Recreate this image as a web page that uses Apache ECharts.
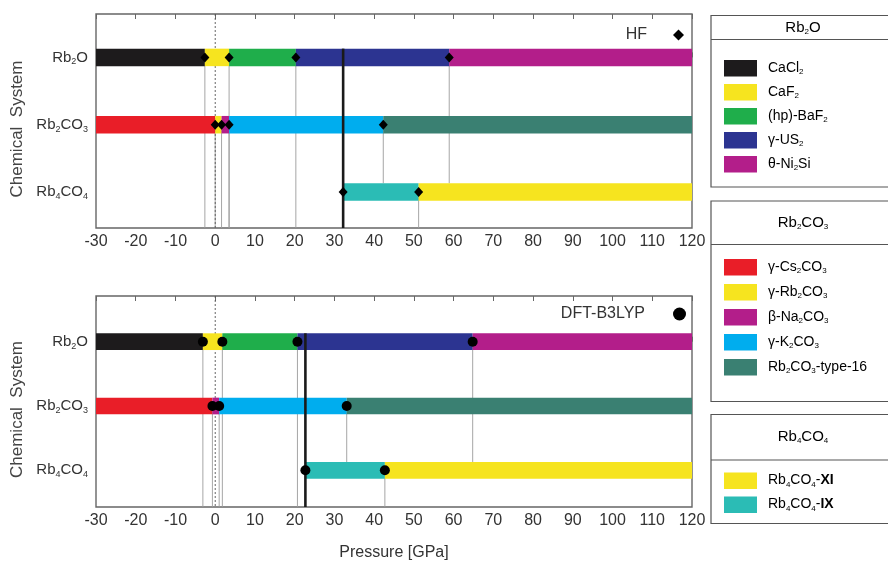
<!DOCTYPE html>
<html>
<head>
<meta charset="utf-8">
<script src="https://cdn.jsdelivr.net/npm/echarts@6/dist/echarts.min.js"></script>
<style>
  html, body { margin: 0; padding: 0; background: #fff; }
  #chart { width: 888px; height: 562px; }
</style>
</head>
<body>
<div id="chart"></div>
<script>
// ---- data -------------------------------------------------------------
const systemNames = ['Rb2O', 'Rb2CO3', 'Rb4CO4'];
const pressureMin = -30;
const pressureMax = 120;
const pressureStep = 10;

// phases per chemical system, in legend order, with their colours
const rb2oPhases = ['CaCl2', 'CaF2', '(hp)-BaF2', 'γ-US2', 'θ-Ni2Si'];
const rb2oColors = ['#1d1b1c', '#f6e41f', '#1fae4b', '#2c3491', '#b31e8a'];
const rb2co3Phases = ['γ-Cs2CO3', 'γ-Rb2CO3', 'β-Na2CO3', 'γ-K2CO3', 'Rb2CO3-type-16'];
const rb2co3Colors = ['#e91e28', '#f6e41f', '#b31e8a', '#00adee', '#3a8072'];
const rb4co4Phases = ['Rb4CO4-XI', 'Rb4CO4-IX'];
const rb4co4Colors = ['#f6e41f', '#2bbcb5'];

// HF: phase sequence with increasing pressure and transition pressures (GPa)
const hfRb2oSeq = ['CaCl2', 'CaF2', '(hp)-BaF2', 'γ-US2', 'θ-Ni2Si'];
const hfRb2oP = [-2.6, 3.5, 20.3, 58.9];
const hfRb2co3Seq = ['γ-Cs2CO3', 'γ-Rb2CO3', 'β-Na2CO3', 'γ-K2CO3', 'Rb2CO3-type-16'];
const hfRb2co3P = [0.0, 1.6, 3.5, 42.3];
const hfRb4co4Seq = ['Rb4CO4-IX', 'Rb4CO4-XI'];
const hfRb4co4P = [32.2, 51.2];   // first value: onset of Rb4CO4 stability

// DFT-B3LYP
const dftRb2oSeq = ['CaCl2', 'CaF2', '(hp)-BaF2', 'γ-US2', 'θ-Ni2Si'];
const dftRb2oP = [-3.1, 1.8, 20.7, 64.8];
const dftRb2co3Seq = ['γ-Cs2CO3', 'β-Na2CO3', 'γ-K2CO3', 'Rb2CO3-type-16'];
const dftRb2co3P = [-0.7, 1.0, 33.1];
const dftRb4co4Seq = ['Rb4CO4-IX', 'Rb4CO4-XI'];
const dftRb4co4P = [22.7, 42.7];  // first value: onset of Rb4CO4 stability

const methodNames = ['HF', 'DFT-B3LYP'];

// ---- helpers ----------------------------------------------------------
const FONT = '"Liberation Sans", Arial, Helvetica, sans-serif';
const TEXT = '#333';
const BAR = 0.26;   // bar thickness as a fraction of the row spacing

const colorOf = {};
[[rb2oPhases, rb2oColors], [rb2co3Phases, rb2co3Colors], [rb4co4Phases, rb4co4Colors]]
  .forEach(([names, cols]) => names.forEach((n, i) => { colorOf[n] = cols[i]; }));

// chemical formula -> rich text: digits after a letter become subscripts,
// a trailing Roman-numeral tag is set in bold
function richName(s, base) {
  let tag = '';
  const m = s.match(/^(.*-)(XI|IX)$/);
  if (m) { s = m[1]; tag = m[2]; }
  const parts = s.split(/(?<=[A-Za-z])(\d+)/);
  let out = '';
  parts.forEach((p, i) => {
    if (!p) return;
    out += '{' + (i % 2 ? base + 's' : base) + '|' + p + '}';
  });
  if (tag) out += '{' + base + 'b|' + tag + '}';
  return out;
}
function richStyles(base, size, subSize, lh) {
  const r = {};
  r[base] = { fontSize: size, color: TEXT, fontFamily: FONT, lineHeight: lh };
  r[base + 's'] = { fontSize: subSize, color: TEXT, fontFamily: FONT, verticalAlign: 'bottom', lineHeight: subSize - 2 };
  r[base + 'b'] = { fontSize: size, color: TEXT, fontFamily: FONT, fontWeight: 'bold', lineHeight: lh };
  return r;
}

function buildPanel(rows) {
  const segs = [], marks = [], guides = [];
  const onset = rows[2].p[0];
  rows.forEach((r, row) => {
    const edges = r.onset ? r.p.concat([pressureMax]) : [pressureMin].concat(r.p, [pressureMax]);
    r.seq.forEach((name, k) => {
      segs.push({ value: [edges[k], edges[k + 1], row], itemStyle: { color: colorOf[name] } });
    });
    r.p.forEach((x, k) => {
      marks.push([x, row]);
      if (r.onset && k === 0) return;
      // guides run down to the axis unless they meet the Rb4CO4 bar
      guides.push([x, row, (row < 2 && x > onset) ? 2 : -1]);
    });
  });
  return { segs, marks, guides, onset };
}

const panels = [
  buildPanel([
    { seq: hfRb2oSeq, p: hfRb2oP },
    { seq: hfRb2co3Seq, p: hfRb2co3P },
    { seq: hfRb4co4Seq, p: hfRb4co4P, onset: true }
  ]),
  buildPanel([
    { seq: dftRb2oSeq, p: dftRb2oP },
    { seq: dftRb2co3Seq, p: dftRb2co3P },
    { seq: dftRb4co4Seq, p: dftRb4co4P, onset: true }
  ])
];

// ---- layout -----------------------------------------------------------
const grids = [
  { left: 96, top: 14, width: 596, height: 214 },
  { left: 96, top: 296, width: 596, height: 213 }
];
const yRange = [[-0.645, 2.535], [-0.71, 2.57]];

const xAxes = [], yAxes = [], series = [];
grids.forEach((g, i) => {
  xAxes.push({
    type: 'value', gridIndex: i, min: pressureMin, max: pressureMax, interval: pressureStep,
    position: 'bottom',
    axisLine: { show: false },
    axisTick: { inside: true, length: 5, lineStyle: { color: '#666', width: 1 } },
    splitLine: { show: false },
    axisLabel: { fontSize: 16, color: TEXT, fontFamily: FONT, margin: 6 },
    name: i === 1 ? 'Pressure [GPa]' : '',
    nameLocation: 'middle', nameGap: 38,
    nameTextStyle: { fontSize: 16, color: TEXT, fontFamily: FONT }
  });
  xAxes.push({
    type: 'value', gridIndex: i, min: pressureMin, max: pressureMax, interval: pressureStep,
    position: 'top',
    axisLine: { show: false },
    axisTick: { inside: true, length: 5, lineStyle: { color: '#666', width: 1 } },
    splitLine: { show: false },
    axisLabel: { show: false }
  });
  yAxes.push({
    type: 'value', gridIndex: i, min: yRange[i][0], max: yRange[i][1], inverse: true,
    axisLine: { show: false }, axisTick: { show: false }, splitLine: { show: false },
    axisLabel: {
      customValues: [0, 1, 2], margin: 8,
      formatter: v => richName(systemNames[Math.round(v)], 'y'),
      rich: richStyles('y', 15, 9, 18)
    },
    name: 'Chemical  System', nameLocation: 'middle', nameGap: 66,
    nameTextStyle: { fontSize: 17, color: '#444', fontFamily: FONT, padding: [0, 16, 0, 0] }
  });

  const P = panels[i];
  const xi = i * 2;
  // thin guide lines from each transition
  series.push({
    type: 'custom', xAxisIndex: xi, yAxisIndex: i, z: 1, silent: true,
    data: P.guides,
    renderItem: (params, api) => {
      const x = api.value(0), row = api.value(1), end = api.value(2);
      const a = api.coord([x, row]);
      const cs = params.coordSys;
      const h = api.size([0, 1])[1] * BAR;
      const y2 = end < 0 ? cs.y + cs.height : api.coord([x, end])[1] - h / 2;
      return { type: 'line', shape: { x1: a[0], y1: a[1], x2: a[0], y2: y2 },
        style: { stroke: '#9c9c9c', lineWidth: 0.9 } };
    }
  });
  // zero-pressure reference
  series.push({
    type: 'custom', xAxisIndex: xi, yAxisIndex: i, z: 1, silent: true,
    data: [[0]],
    renderItem: (params, api) => {
      const cs = params.coordSys;
      const x = api.coord([api.value(0), 0])[0];
      return { type: 'line', shape: { x1: x, y1: cs.y, x2: x, y2: cs.y + cs.height },
        style: { stroke: '#555', lineWidth: 0.9, lineDash: [2, 2] } };
    }
  });
  // phase bars
  series.push({
    type: 'custom', xAxisIndex: xi, yAxisIndex: i, z: 2, silent: true,
    data: P.segs,
    renderItem: (params, api) => {
      const s = api.coord([api.value(0), api.value(2)]);
      const e = api.coord([api.value(1), api.value(2)]);
      const h = api.size([0, 1])[1] * BAR;
      return { type: 'rect', shape: { x: s[0], y: s[1] - h / 2, width: e[0] - s[0], height: h },
        style: { fill: api.visual('color') } };
    }
  });
  // onset of Rb4CO4 stability
  series.push({
    type: 'custom', xAxisIndex: xi, yAxisIndex: i, z: 3, silent: true,
    data: [[P.onset]],
    renderItem: (params, api) => {
      const cs = params.coordSys;
      const a = api.coord([api.value(0), 0]);
      const h = api.size([0, 1])[1] * BAR;
      return { type: 'line', shape: { x1: a[0], y1: a[1] - h / 2, x2: a[0], y2: cs.y + cs.height },
        style: { stroke: '#1a1a1a', lineWidth: 2.6 } };
    }
  });
  // transition markers
  series.push({
    type: 'scatter', name: methodNames[i], xAxisIndex: xi, yAxisIndex: i, z: 4,
    symbol: i === 0 ? 'diamond' : 'circle',
    symbolSize: i === 0 ? [9, 10] : 10,
    itemStyle: { color: '#000', opacity: 1 },
    data: P.marks
  });
});

// ---- legend boxes for the phases --------------------------------------
const legendGroups = [
  { title: 'Rb2O', items: rb2oPhases, top: 15.5, head: 24, bottom: 187, first: 60, step: 24 },
  { title: 'Rb2CO3', items: rb2co3Phases, top: 201, head: 43.5, bottom: 401.5, first: 259, step: 25 },
  { title: 'Rb4CO4', items: rb4co4Phases, top: 414.5, head: 45.5, bottom: 523.5, first: 472.5, step: 24 }
];
const boxLeft = 711, boxRight = 905;
const graphic = [];
legendGroups.forEach(g => {
  graphic.push({ type: 'rect', shape: { x: boxLeft, y: g.top, width: boxRight - boxLeft, height: g.bottom - g.top },
    style: { fill: 'none', stroke: '#555', lineWidth: 1.2 } });
  graphic.push({ type: 'line', shape: { x1: boxLeft, y1: g.top + g.head, x2: boxRight, y2: g.top + g.head },
    style: { stroke: '#555', lineWidth: 1.2 } });
  graphic.push({ type: 'text', x: 803, y: g.top + g.head / 2,
    style: { text: richName(g.title, 'h'), rich: richStyles('h', 15, 8, 16), align: 'center', verticalAlign: 'middle' } });
  g.items.forEach((name, k) => {
    const y = g.first + g.step * k;
    graphic.push({ type: 'rect', shape: { x: 724, y: y, width: 33, height: 16.5 },
      style: { fill: colorOf[name] } });
    graphic.push({ type: 'text', x: 768, y: y + 8,
      style: { text: richName(name, 'l'), rich: richStyles('l', 14, 8, 16), align: 'left', verticalAlign: 'middle' } });
  });
});

// ---- chart ------------------------------------------------------------
const chart = echarts.init(document.getElementById('chart'), null, { renderer: 'canvas' });
chart.setOption({
  backgroundColor: '#fff',
  animation: false,
  textStyle: { fontFamily: FONT },
  grid: grids.map(g => Object.assign({ show: true, borderColor: '#666', borderWidth: 1.4, backgroundColor: 'transparent' }, g)),
  xAxis: xAxes,
  yAxis: yAxes,
  series: series,
  legend: [
    { data: ['HF'], right: 199, top: 22, align: 'right', itemWidth: 11, itemHeight: 11, selectedMode: false,
      textStyle: { fontSize: 16, color: TEXT, fontFamily: FONT, padding: [0, 21, 0, 0] } },
    { data: ['DFT-B3LYP'], right: 197, top: 301, align: 'right', itemWidth: 13, itemHeight: 13, selectedMode: false,
      textStyle: { fontSize: 16, color: TEXT, fontFamily: FONT, padding: [0, 23, 0, 0] } }
  ],
  graphic: graphic
});
</script>
</body>
</html>
